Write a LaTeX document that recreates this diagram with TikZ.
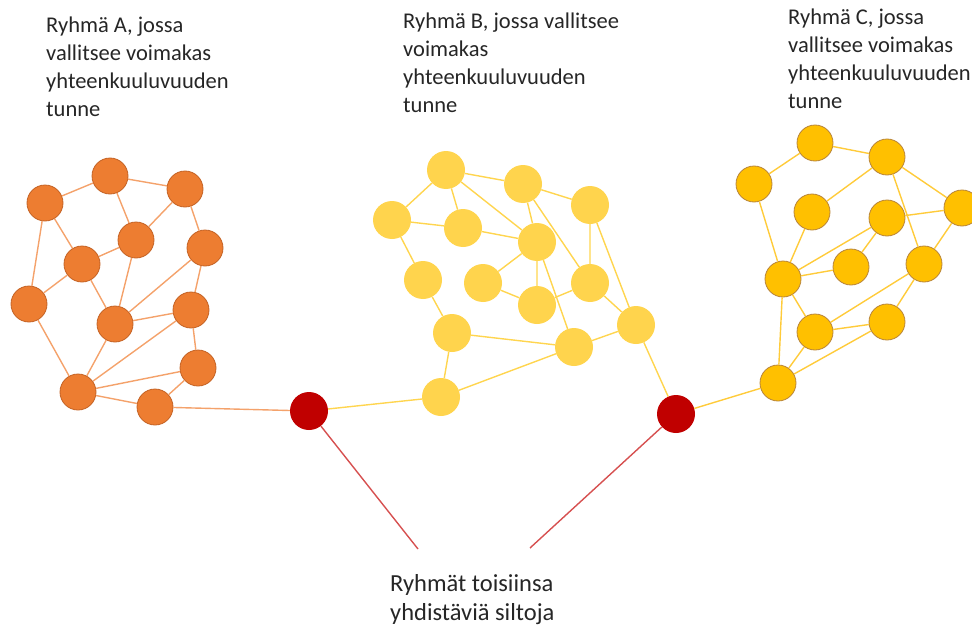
\documentclass[tikz,border=0pt]{standalone}
\usepackage{fontspec}
\setmainfont{Carlito}
\definecolor{orA}{HTML}{ED7D31}
\definecolor{orAline}{HTML}{F4A26B}
\definecolor{orAedge}{HTML}{C46224}
\definecolor{yeB}{HTML}{FFD44D}
\definecolor{yeBline}{HTML}{FFD54F}
\definecolor{goC}{HTML}{FFC000}
\definecolor{goCline}{HTML}{FFCB3A}
\definecolor{goCedge}{HTML}{B8843A}
\definecolor{brick}{HTML}{C00000}
\definecolor{brickline}{HTML}{D65050}
\definecolor{txt}{HTML}{262626}
\begin{document}
\begin{tikzpicture}[x=1pt,y=-1pt,
  dotA/.style={circle,fill=orA,draw=orAedge,line width=.8pt,minimum size=36pt,inner sep=0pt},
  dotB/.style={circle,fill=yeB,minimum size=38pt,inner sep=0pt},
  dotC/.style={circle,fill=goC,draw=goCedge,line width=.8pt,minimum size=36pt,inner sep=0pt},
  bridge/.style={circle,fill=brick,minimum size=38pt,inner sep=0pt},
  label/.style={text=txt,font=\fontsize{22.5}{28}\selectfont,align=left,inner sep=0pt,anchor=base west}]
\useasboundingbox (0,0) rectangle (972,626);

% group A
\node[dotA] (a1) at (45,203) {};
\node[dotA] (a2) at (110,176) {};
\node[dotA] (a3) at (185,189) {};
\node[dotA] (a4) at (136,240) {};
\node[dotA] (a5) at (82,264) {};
\node[dotA] (a6) at (205,248) {};
\node[dotA] (a7) at (29,304) {};
\node[dotA] (a8) at (191,310) {};
\node[dotA] (a9) at (115,324) {};
\node[dotA] (a10) at (198,368) {};
\node[dotA] (a11) at (78,392) {};
\node[dotA] (a12) at (155,407) {};

% group B
\node[dotB] (b1) at (446,170) {};
\node[dotB] (b2) at (523,184) {};
\node[dotB] (b3) at (590,205) {};
\node[dotB] (b4) at (392,220) {};
\node[dotB] (b5) at (463,228) {};
\node[dotB] (b6) at (537,242) {};
\node[dotB] (b7) at (423,280) {};
\node[dotB] (b8) at (483,283) {};
\node[dotB] (b9) at (590,283) {};
\node[dotB] (b10) at (537,305) {};
\node[dotB] (b11) at (636,325) {};
\node[dotB] (b12) at (452,333) {};
\node[dotB] (b13) at (574,347) {};
\node[dotB] (b14) at (441,397) {};

% group C
\node[dotC] (c1) at (815,143) {};
\node[dotC] (c2) at (887,157) {};
\node[dotC] (c3) at (754,184) {};
\node[dotC] (c4) at (812,212) {};
\node[dotC] (c5) at (887,218) {};
\node[dotC] (c6) at (962,208) {};
\node[dotC] (c7) at (783,279) {};
\node[dotC] (c8) at (851,267) {};
\node[dotC] (c9) at (924,264) {};
\node[dotC] (c10) at (815,332) {};
\node[dotC] (c11) at (887,322) {};
\node[dotC] (c12) at (778,383) {};

% bridges
\node[bridge] (s1) at (309,411) {};
\node[bridge] (s2) at (676,414) {};
\coordinate (p1) at (418,549);
\coordinate (p2) at (530,548);

\draw[orAline,line width=1.4pt] (a1) -- (a2) (a1) -- (a7) (a1) -- (a5) (a2) -- (a3)
  (a2) -- (a4) (a3) -- (a4) (a3) -- (a6) (a4) -- (a5) (a4) -- (a9) (a5) -- (a7)
  (a5) -- (a9) (a6) -- (a9) (a6) -- (a8) (a8) -- (a9) (a8) -- (a11) (a8) -- (a10)
  (a9) -- (a11) (a7) -- (a11) (a10) -- (a11) (a10) -- (a12) (a11) -- (a12) (a12) -- (s1);
\draw[yeBline,line width=1.4pt] (b1) -- (b2) (b1) -- (b4) (b1) -- (b5) (b1) -- (b6)
  (b2) -- (b3) (b2) -- (b6) (b2) -- (b9) (b3) -- (b9) (b3) -- (b11) (b4) -- (b5)
  (b4) -- (b7) (b5) -- (b6) (b6) -- (b8) (b6) -- (b10) (b6) -- (b13) (b7) -- (b12)
  (b8) -- (b10) (b10) -- (b9) (b9) -- (b11) (b11) -- (b13) (b12) -- (b13)
  (b12) -- (b14) (b13) -- (b14) (b14) -- (s1) (b11) -- (s2);
\draw[goCline,line width=1.4pt] (c1) -- (c3) (c1) -- (c2) (c2) -- (c4) (c2) -- (c6)
  (c2) -- (c9) (c3) -- (c7) (c4) -- (c7) (c5) -- (c7) (c5) -- (c6) (c5) -- (c8)
  (c6) -- (c9) (c7) -- (c8) (c7) -- (c10) (c7) -- (c12) (c9) -- (c10) (c9) -- (c11)
  (c10) -- (c11) (c10) -- (c12) (c11) -- (c12) (c12) -- (s2);
\draw[brickline,line width=1.4pt] (s1) -- (p1) (s2) -- (p2);

% base west sits on the last line
\node[label] (tA) at (46,116) {Ryhmä A, jossa\\vallitsee voimakas\\yhteenkuuluvuuden\\tunne};
\node[label] (tB) at (403,112) {Ryhmä B, jossa vallitsee\\voimakas\\yhteenkuuluvuuden\\tunne};
\node[label] (tC) at (788,108) {Ryhmä C, jossa\\vallitsee voimakas\\yhteenkuuluvuuden\\tunne};
\node[label,font=\fontsize{24.5}{29}\selectfont] (tS) at (390,620) {Ryhmät toisiinsa\\yhdistäviä siltoja};
\end{tikzpicture}
\end{document}
